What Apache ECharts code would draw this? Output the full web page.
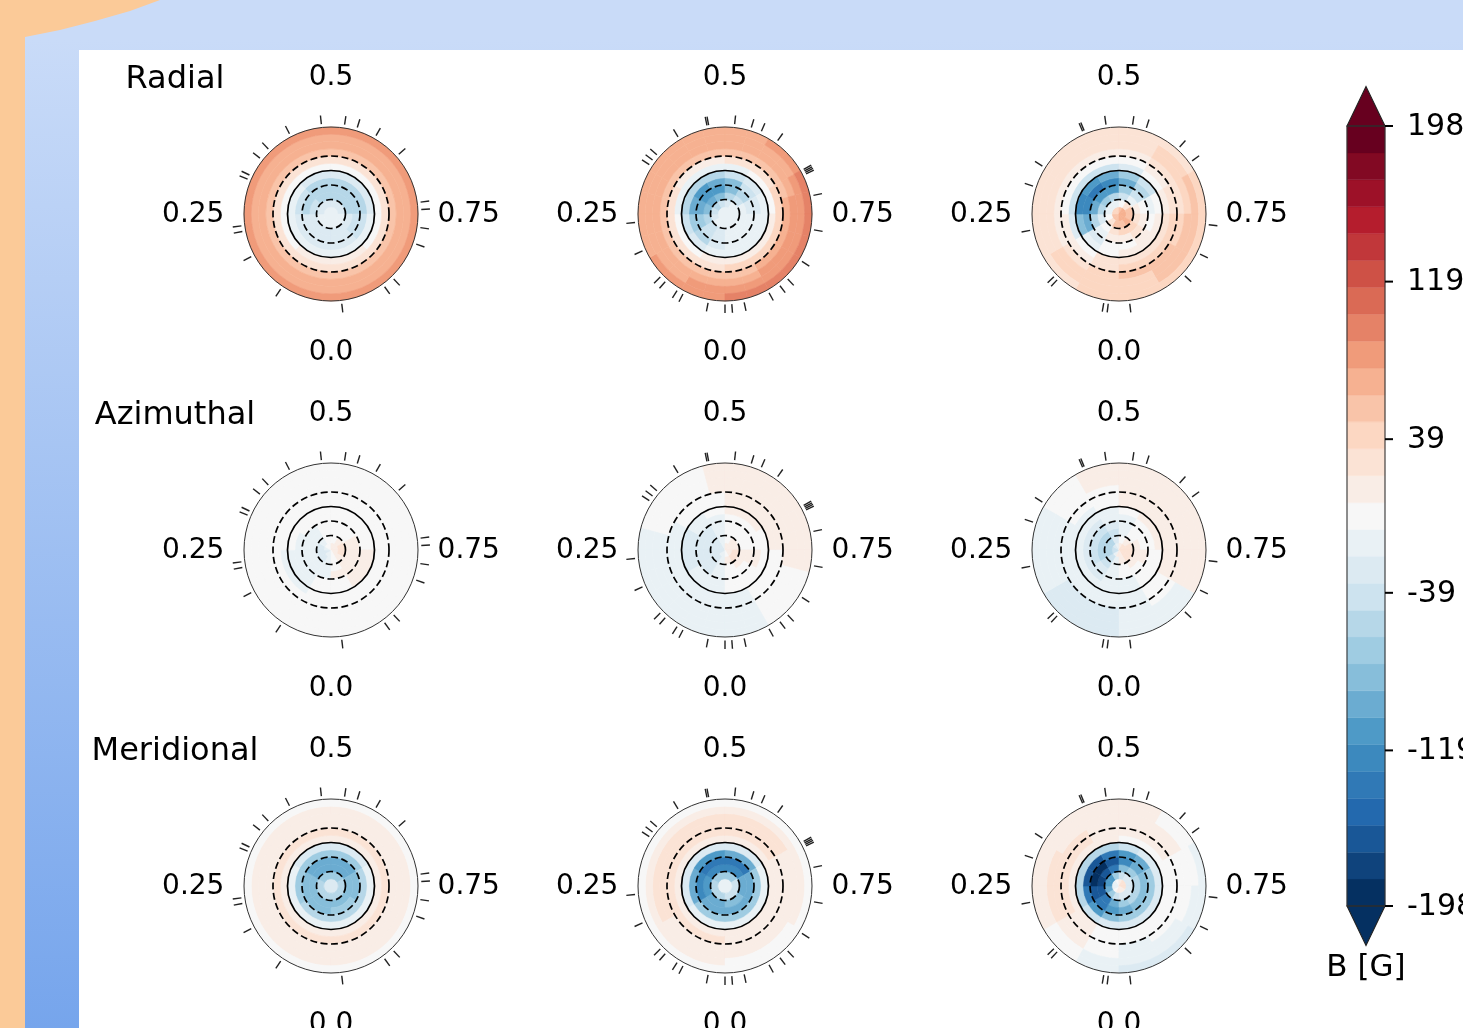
<!DOCTYPE html>
<html>
<head>
<meta charset="utf-8">
<title>Magnetic field maps</title>
<style>
  html, body { margin: 0; padding: 0; background: #fff; overflow: hidden; }
  #main { width: 1463px; height: 1028px; }
</style>
<script src="https://cdn.jsdelivr.net/npm/echarts@6/dist/echarts.min.js"></script>
</head>
<body>
<div id="main"></div>
<script>
// rows of the map, from the pole outwards, one row per 15 deg of colatitude.
// a row holds n equal sectors, clockwise from phase 0
const radial1 = [
  [-13],
  [-13, -15, -22, -27, -27, -27, -15, -13],
  [-25, -27, -40, -48, -48, -48, -30, -22],
  [-27, -30, -48, -52, -52, -52, -38, -27],
  [-25, -28, -40, -50, -50, -48, -35, -25],
  [-10, -15, -20, -28, -28, -22, -15, -10],
  [8, 5, 0, 0, 0, 0, 5, 8],
  [27],
  [55],
  [68],
  [72],
  [80]
]
const radial2 = [
  [-14],
  [-14, -20, -27, -40, -50, -45, -30, -20, -14, -14, -14, -14],
  [-25, -40, -60, -85, -90, -85, -60, -40, -20, -14, -14, -18],
  [-25, -45, -75, -100, -110, -105, -85, -50, -22, -14, -14, -18],
  [-25, -50, -70, -90, -105, -100, -80, -45, -22, -14, -14, -18],
  [-13, -27, -40, -50, -55, -55, -40, -22, -13, -8, -8, -10],
  [8, 0, -5, -8, -13, -13, -8, 0, 5, 8, 8, 8],
  [30, 27, 25, 22, 20, 20, 22, 27, 35, 40, 40, 35],
  [55, 55, 52, 50, 50, 50, 50, 50, 48, 48, 48, 48, 48, 50, 50, 55, 58, 62, 62, 65, 65, 62, 60, 58],
  [70, 68, 68, 68, 65, 65, 65, 65, 62, 62, 62, 62, 62, 62, 65, 68, 70, 78, 78, 78, 78, 76, 72, 70],
  [80, 78, 70, 68, 68, 68, 68, 68, 68, 68, 68, 68, 68, 68, 70, 70, 78, 80, 82, 82, 82, 82, 82, 82],
  [85, 82, 80, 78, 72, 70, 70, 68, 68, 68, 68, 70, 72, 72, 78, 80, 90, 92, 95, 95, 95, 95, 92, 90]
]
const radial3 = [
  [60, 60, 55, 45, 35, 40, 60, 75, 75, 75, 70, 65],
  [48, 25, 0, -10, -15, -10, 0, 30, 50, 60, 65, 60],
  [27, 0, -25, -50, -65, -60, -40, -10, 15, 30, 45, 40],
  [8, -20, -60, -100, -115, -105, -75, -35, 5, 20, 30, 20],
  [0, -30, -90, -125, -130, -120, -95, -55, -8, 5, 10, 5],
  [5, -20, -85, -120, -115, -100, -75, -35, 0, 12, 15, 10],
  [22, 5, -25, -40, -40, -35, -22, 0, 15, 27, 27, 27],
  [30, 20, 8, 0, 0, 0, 5, 15, 27, 38, 45, 40],
  [38, 30, 20, 20, 15, 15, 15, 22, 30, 40, 55, 52],
  [35, 35, 27, 27, 27, 27, 30, 35, 45, 55, 58, 45],
  [38, 35, 30, 30, 27, 27, 30, 35, 48, 55, 50, 40],
  [35, 30, 30, 30, 27, 27, 30, 30, 35, 38, 35, 35]
]
const azimuthal1 = [
  [-8, -20, -25, -15, -5, 0, 8, 10, 10, 8, 8, 0],
  [-15, -27, -27, -25, -10, 0, 0, 10, 22, 22, 15, 5],
  [-8, -15, -20, -15, -8, 0, 0, 5, 10, 15, 15, 5],
  [-8, -10, -10, -10, -8, 0, 0, 0, 8, 15, 15, 8],
  [0, -8, -10, -8, 0, 0, 0, 0, 0, 8, 10, 0],
  [0, -8, -8, 0, 0, 0, 0, 0, 0, 8, 8, 0],
  [0, -8, -8, 0, 0, 0, 0, 0, 0, 0, 0, 0],
  [0],
  [0],
  [0],
  [0],
  [0]
]
const azimuthal2 = [
  [-10, -15, -25, -27, -25, -10, 8, 10, 10, 10, 10, 0],
  [-15, -22, -30, -30, -25, -10, 0, 8, 12, 22, 22, 8],
  [-15, -22, -27, -27, -22, -10, 0, 0, 5, 10, 10, 0],
  [-10, -22, -27, -27, -22, -10, 0, 0, 0, 8, 0, 0],
  [-8, -20, -24, -24, -20, -8, 0, 0, 0, 8, 0, 0],
  [-8, -12, -22, -22, -12, 0, 8, 8, 0, 0, 0, 0],
  [-8, -10, -10, -10, 0, 0, 8, 8, 8, 0, 0, -7],
  [-8, -10, -10, -8, 0, 0, 8, 8, 8, 0, 0, -8],
  [-10, -10, -10, -10, -10, -10, -10, 0, 0, 0, 0, 10, 10, 10, 10, 10, 10, 10, 10, 0, 0, 0, -10, -10],
  [-10, -10, -10, -10, -10, -10, -10, 0, 0, 0, 0, 10, 10, 10, 10, 10, 10, 10, 10, 0, 0, 0, -10, -10],
  [-10, -10, -10, -10, -10, -10, -10, 0, 0, 0, 0, 10, 10, 10, 10, 10, 10, 10, 10, 0, 0, 0, -10, -10],
  [-10, -10, -10, -10, -10, -10, -10, 0, 0, 0, 0, 10, 10, 10, 10, 10, 10, 10, 10, 0, 0, 0, -10, -10]
]
const azimuthal3 = [
  [10, -20, -35, -40, -30, -10, 15, 27, 30, 30, 27, 20],
  [-10, -35, -48, -55, -50, -27, -5, 15, 30, 30, 27, 10],
  [-20, -40, -55, -60, -55, -35, -13, 0, 8, 15, 15, 0],
  [-20, -30, -40, -40, -35, -25, -13, 0, 0, 8, 5, -5],
  [-15, -22, -30, -30, -22, -13, -8, 0, 0, 5, 0, -8],
  [-15, -15, -15, -15, -13, -8, 0, 8, 8, 5, 0, -10],
  [-15, -15, -15, -10, -7, 0, 8, 10, 12, 10, 0, -10],
  [-20, -15, -13, -10, 0, 0, 10, 12, 12, 10, 0, -10],
  [-25, -22, -15, -10, 0, 5, 10, 12, 12, 10, 0, -12],
  [-25, -25, -15, -8, 0, 8, 10, 12, 12, 10, -8, -15],
  [-25, -25, -15, -8, 0, 8, 10, 12, 12, 10, -8, -15],
  [-22, -22, -13, -8, 0, 8, 10, 12, 10, 8, -8, -13]
]
const meridional1 = [
  [-22],
  [-55, -60, -70, -68, -55, -55],
  [-80, -82, -95, -92, -80, -78],
  [-78, -85, -98, -95, -80, -75],
  [-55, -65, -70, -70, -60, -50],
  [-15, -20, -22, -22, -18, -15],
  [15],
  [22],
  [20],
  [15],
  [10, 8, 8, 10, 10, 10],
  [0]
]
const meridional2 = [
  [-15],
  [-50, -60, -70, -65, -45, -40],
  [-100, -110, -125, -120, -90, -85],
  [-100, -125, -140, -130, -100, -90],
  [-70, -90, -105, -95, -70, -65],
  [-18, -25, -30, -27, -20, -15],
  [15, 12, 10, 10, 15, 15],
  [22, 25, 22, 22, 20, 20],
  [20, 27, 25, 25, 20, 15],
  [15, 22, 22, 22, 15, 10],
  [8, 12, 12, 12, 8, 0],
  [0]
]
const meridional3 = [
  [8, 0, -10, -15, -10, 0, 15, 22, 27, 22, 15, 10],
  [-35, -70, -100, -115, -105, -70, -35, -30, -25, -22, -25, -25],
  [-100, -130, -160, -180, -170, -130, -85, -65, -60, -55, -60, -70],
  [-110, -135, -170, -195, -190, -170, -125, -95, -85, -78, -80, -90],
  [-85, -115, -135, -160, -160, -130, -110, -90, -75, -70, -70, -75],
  [-27, -40, -50, -60, -60, -50, -40, -30, -27, -25, -22, -22],
  [0, 8, 15, 15, 10, 8, 5, 0, 0, 0, 0, 0],
  [0, 10, 27, 27, 22, 15, 10, 8, 0, 0, 0, 0],
  [0, 10, 27, 30, 22, 15, 12, 10, 0, 0, 0, -8],
  [0, 8, 22, 22, 15, 15, 12, 8, 0, 0, -8, -8],
  [-8, 0, 8, 15, 15, 12, 10, 0, 0, -8, -15, -15],
  [-10, 0, 8, 8, 10, 8, 8, 0, -8, -15, -27, -22]
]

const rowNames = ['Radial', 'Azimuthal', 'Meridional']
const maps = [
  [radial1, radial2, radial3],
  [azimuthal1, azimuthal2, azimuthal3],
  [meridional1, meridional2, meridional3]
]

// observed phases, same for every row of a column
const obsPhases1 = [0.094, 0.172, 0.219, 0.229, 0.313, 0.321, 0.356, 0.378, 0.424, 0.483, 0.524, 0.547, 0.583, 0.635, 0.729, 0.742, 0.774, 0.804, 0.878, 0.899, 0.981]
const obsPhases2 = [0, 0.03, 0.077, 0.089, 0.115, 0.127, 0.183, 0.235, 0.342, 0.352, 0.364, 0.413, 0.468, 0.471, 0.517, 0.547, 0.566, 0.599, 0.668, 0.671, 0.674, 0.677, 0.717, 0.778, 0.838, 0.878, 0.896, 0.919, 0.966, 0.988]
const obsPhases3 = [0.019, 0.027, 0.12, 0.128, 0.221, 0.3, 0.339, 0.434, 0.437, 0.477, 0.524, 0.549, 0.617, 0.65, 0.769, 0.823, 0.87, 0.981]
const obsPhases = [obsPhases1, obsPhases2, obsPhases3]

const phaseTicks = [0, 0.25, 0.5, 0.75]
const phaseLabels = ['0.0', '0.25', '0.5', '0.75']
const contourLevels = [30, 60, 90, 120]   // colatitude, 90 is the solid one

const cbTicks = [-198, -119, -39, 39, 119, 198]
const cbColors = [
  '#053061', '#0f437c', '#195797', '#2369ae', '#3079b6', '#3c89be', '#4e9ac7', '#6bacd1',
  '#87beda', '#9fcce2', '#b6d7e8', '#cde3ef', '#dceaf2', '#e9f1f5', '#f7f7f7', '#f9ede6',
  '#fbe3d5', '#fcd7c2', '#f9c4a9', '#f6b191', '#f09b7a', '#e58267', '#da6a55', '#ce5146',
  '#c1373a', '#b51d2d', '#9d1128', '#820923', '#67001f'
]

const FONT = 'DejaVu Sans'
const BMAX = 198
const RING = 15          // deg of colatitude per map row
const colX = [331, 725, 1119]
const rowY = [214, 550, 886]
const RADIUS = 87

function bandColor (v) {
  let k = Math.floor((v + BMAX) / (2 * BMAX) * cbColors.length)
  k = Math.max(0, Math.min(cbColors.length - 1, k))
  return cbColors[k]
}

function cellData (map) {
  const out = []
  map.forEach((row, i) => {
    row.forEach((v, j) => {
      out.push([i * RING, (i + 1) * RING, j / row.length, (j + 1) / row.length, v])
    })
  })
  return out
}

function renderCell (params, api) {
  const c = params.coordSys
  const p0 = api.coord([api.value(1), api.value(2)])
  const a0 = Math.atan2(p0[1] - c.cy, p0[0] - c.cx)
  const span = (api.value(3) - api.value(2)) * Math.PI * 2
  const r = Math.hypot(p0[0] - c.cx, p0[1] - c.cy)
  const p1 = api.coord([api.value(0), api.value(2)])
  const r0 = Math.hypot(p1[0] - c.cx, p1[1] - c.cy)
  const color = bandColor(api.value(4))
  return {
    type: 'sector',
    shape: { cx: c.cx, cy: c.cy, r0, r, startAngle: a0, endAngle: a0 + span, clockwise: true },
    style: { fill: color, stroke: color, lineWidth: 0.6 }
  }
}

function renderContour (params, api) {
  const c = params.coordSys
  const level = api.value(0)
  const p = api.coord([level, 0.5])
  return {
    type: 'circle',
    shape: { cx: c.cx, cy: c.cy, r: Math.hypot(p[0] - c.cx, p[1] - c.cy) },
    style: { fill: 'none', stroke: '#000', lineWidth: 1.7, lineDash: level === 90 ? null : [7, 3.5] }
  }
}

function renderTick (params, api) {
  const a = api.coord([187, api.value(0)])
  const b = api.coord([205, api.value(0)])
  return {
    type: 'line',
    shape: { x1: a[0], y1: a[1], x2: b[0], y2: b[1] },
    style: { stroke: '#222', lineWidth: 1.4 }
  }
}

function renderPhaseLabel (params, api) {
  const p = api.coord([285, api.value(0)])
  return {
    type: 'text',
    x: p[0],
    y: p[1] + 1,
    style: {
      text: phaseLabels[params.dataIndex],
      font: '28px "' + FONT + '"',
      fill: '#000',
      align: 'center',
      verticalAlign: 'middle'
    }
  }
}

function renderBand (params, api) {
  const a = api.coord([0, api.value(0)])
  const b = api.coord([1, api.value(1)])
  return {
    type: 'rect',
    shape: { x: a[0], y: b[1], width: b[0] - a[0], height: a[1] - b[1] },
    style: { fill: cbColors[params.dataIndex], stroke: cbColors[params.dataIndex], lineWidth: 0.4 }
  }
}

function renderExtend (params, api) {
  const edge = api.value(0)
  const tip = api.value(1)
  const points = [api.coord([0, edge]), api.coord([0.5, tip]), api.coord([1, edge])]
  return {
    type: 'polygon',
    shape: { points },
    style: { fill: edge > 0 ? cbColors[cbColors.length - 1] : cbColors[0], stroke: '#222', lineWidth: 1.1 }
  }
}

function renderFrame (params, api) {
  const a = api.coord([0, -BMAX])
  const b = api.coord([1, BMAX])
  return {
    type: 'rect',
    shape: { x: a[0], y: b[1], width: b[0] - a[0], height: a[1] - b[1] },
    style: { fill: 'none', stroke: '#333', lineWidth: 1.1 }
  }
}

function renderCbTick (params, api) {
  const v = api.value(0)
  const p = api.coord([1, v])
  return {
    type: 'group',
    children: [
      {
        type: 'line',
        shape: { x1: p[0], y1: p[1], x2: p[0] + 8, y2: p[1] },
        style: { stroke: '#000', lineWidth: 2 }
      },
      {
        type: 'text',
        x: p[0] + 22,
        y: p[1] + 1,
        style: { text: String(v), font: '30px "' + FONT + '"', fill: '#000', align: 'left', verticalAlign: 'middle' }
      }
    ]
  }
}

const polar = []
const angleAxis = []
const radiusAxis = []
const series = []
let n = 0
maps.forEach((rowMaps, r) => {
  rowMaps.forEach((map, c) => {
    polar.push({ center: [colX[c], rowY[r]], radius: RADIUS })
    angleAxis.push({
      polarIndex: n,
      type: 'value',
      min: 0,
      max: 1,
      startAngle: 270,
      clockwise: true,
      z: 6,
      axisLine: { show: true, lineStyle: { color: '#333', width: 1 } },
      axisTick: { show: false },
      axisLabel: { show: false },
      splitLine: { show: false }
    })
    radiusAxis.push({
      polarIndex: n,
      type: 'value',
      min: 0,
      max: 180,
      axisLine: { show: false },
      axisTick: { show: false },
      axisLabel: { show: false },
      splitLine: { show: false }
    })
    series.push(
      { type: 'custom', coordinateSystem: 'polar', polarIndex: n, silent: true, z: 2, renderItem: renderCell, data: cellData(map) },
      { type: 'custom', coordinateSystem: 'polar', polarIndex: n, silent: true, z: 8, renderItem: renderContour, data: contourLevels.map(v => [v, 0]) },
      { type: 'custom', coordinateSystem: 'polar', polarIndex: n, silent: true, z: 8, renderItem: renderTick, data: obsPhases[c].map(v => [v]) },
      { type: 'custom', coordinateSystem: 'polar', polarIndex: n, silent: true, z: 8, renderItem: renderPhaseLabel, data: phaseTicks.map(v => [v]) }
    )
    n++
  })
})

// colour bar
const cbBands = cbColors.map((col, i) => {
  const w = 2 * BMAX / cbColors.length
  return [-BMAX + i * w, -BMAX + (i + 1) * w]
})
series.push(
  { type: 'custom', coordinateSystem: 'cartesian2d', silent: true, z: 2, clip: false, renderItem: renderBand, data: cbBands },
  { type: 'custom', coordinateSystem: 'cartesian2d', silent: true, z: 3, clip: false, renderItem: renderExtend, data: [[BMAX, 218], [-BMAX, -218]] },
  { type: 'custom', coordinateSystem: 'cartesian2d', silent: true, z: 3, clip: false, renderItem: renderFrame, data: [[0, 0]] },
  { type: 'custom', coordinateSystem: 'cartesian2d', silent: true, z: 3, clip: false, renderItem: renderCbTick, encode: { y: 0 }, data: cbTicks.map(v => [v]) }
)

const titles = rowNames.map((name, i) => ({
  text: name,
  left: 170,
  top: rowY[i] - 139,
  textAlign: 'center',
  textVerticalAlign: 'middle',
  textStyle: { fontFamily: FONT, fontSize: 32, fontWeight: 'normal', color: '#000' }
}))
titles.push({
  text: 'B [G]',
  left: 1361,
  top: 963,
  textAlign: 'center',
  textVerticalAlign: 'middle',
  textStyle: { fontFamily: FONT, fontSize: 31, fontWeight: 'normal', color: '#000' }
})

const option = {
  animation: false,
  backgroundColor: '#fff',
  textStyle: { fontFamily: FONT },
  title: titles,
  graphic: {
    elements: [
      { type: 'rect', z: -30, silent: true, shape: { x: 0, y: 0, width: 1463, height: 1028 }, style: { fill: '#fbca98' } },
      {
        type: 'polygon',
        z: -20,
        silent: true,
        shape: { points: [[25, 37], [60, 30], [95, 21], [130, 11], [160, 0], [1463, 0], [1463, 1028], [25, 1028]] },
        style: {
          fill: {
            type: 'linear',
            x: 0,
            y: 40,
            x2: 0,
            y2: 1028,
            global: true,
            colorStops: [{ offset: 0, color: '#c9dbf8' }, { offset: 1, color: '#76a5ec' }]
          }
        }
      },
      { type: 'rect', z: -10, silent: true, shape: { x: 79, y: 50, width: 1384, height: 978 }, style: { fill: '#fff' } }
    ]
  },
  polar,
  angleAxis,
  radiusAxis,
  grid: { left: 1347, top: 126, width: 38, height: 780, outerBoundsMode: 'none' },
  xAxis: { type: 'value', min: 0, max: 1, show: false },
  yAxis: {
    type: 'value',
    position: 'right',
    min: -BMAX,
    max: BMAX,
    axisLine: { show: false },
    splitLine: { show: false },
    axisTick: { show: false },
    axisLabel: { show: false }
  },
  series
}

const chart = echarts.init(document.getElementById('main'), null, { renderer: 'canvas' })
chart.setOption(option)
</script>
</body>
</html>
